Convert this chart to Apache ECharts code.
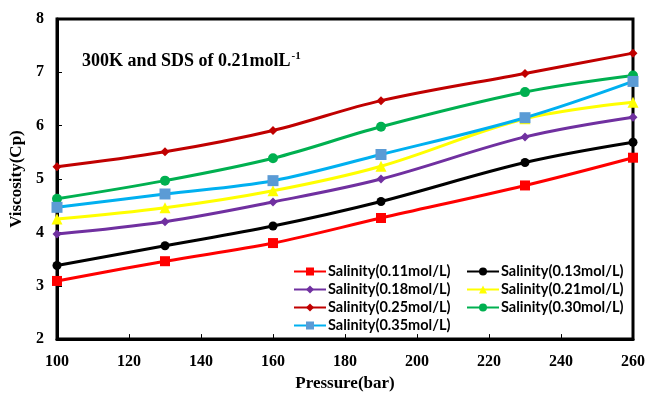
<!DOCTYPE html>
<html>
<head>
<meta charset="utf-8">
<script src="https://cdn.jsdelivr.net/npm/echarts@6/dist/echarts.min.js"></script>
<style>html,body{margin:0;padding:0;background:#fff;}#c{width:649px;height:397px;}</style>
</head>
<body>
<div id="c"></div>
<script>
const pressures = [100, 130, 160, 190, 230, 260];
const xTicks = [100, 120, 140, 160, 180, 200, 220, 240, 260];
const yTicks = [2, 3, 4, 5, 6, 7, 8];
const names = ['Salinity(0.11mol/L)', 'Salinity(0.13mol/L)', 'Salinity(0.18mol/L)', 'Salinity(0.21mol/L)', 'Salinity(0.25mol/L)', 'Salinity(0.30mol/L)', 'Salinity(0.35mol/L)'];
const s011 = [3.09, 3.46, 3.80, 4.27, 4.88, 5.40];
const s013 = [3.38, 3.75, 4.12, 4.58, 5.31, 5.69];
const s018 = [3.97, 4.20, 4.57, 5.00, 5.79, 6.16];
const s021 = [4.25, 4.46, 4.78, 5.24, 6.13, 6.44];
const s025 = [5.23, 5.51, 5.91, 6.47, 6.98, 7.36];
const s030 = [4.63, 4.97, 5.39, 5.98, 6.63, 6.94];
const s035 = [4.47, 4.72, 4.97, 5.46, 6.15, 6.83];

const values = [s011, s013, s018, s021, s025, s030, s035];
const styles = [
  {symbol: 'rect', size: 10, line: '#FF0000', mark: '#FF0000'},
  {symbol: 'circle', size: 9, line: '#000000', mark: '#000000'},
  {symbol: 'diamond', size: 9, line: '#7030A0', mark: '#7030A0'},
  {symbol: 'triangle', size: 11, line: '#FFFF00', mark: '#FFFF00'},
  {symbol: 'diamond', size: 9, line: '#C00000', mark: '#C00000'},
  {symbol: 'circle', size: 10, line: '#00B050', mark: '#00B050'},
  {symbol: 'rect', size: 11, line: '#00B0F0', mark: '#5B9BD5'}
];

const serif = '"Liberation Serif", "Times New Roman", serif';
const chart = echarts.init(document.getElementById('c'), null, {renderer: 'canvas'});

const series = names.map((n, i) => ({
  name: n,
  type: 'line',
  smooth: 0.35,
  data: pressures.map((p, j) => [p, values[i][j]]),
  symbol: styles[i].symbol,
  symbolSize: styles[i].size,
  lineStyle: {color: styles[i].line, width: 3},
  itemStyle: {color: styles[i].mark},
  z: 2 + i
}));

const legendText = {fontFamily: 'Lato, "Open Sans", sans-serif', fontSize: 14.5, fontWeight: 'bold', color: '#000', padding: [0, 0, 0, -3]};
const legendBase = {orient: 'vertical', top: 264, padding: 0, itemWidth: 32, itemHeight: 10, itemGap: 3, textStyle: legendText};

chart.setOption({
  animation: false,
  backgroundColor: '#fff',
  title: {
    left: 82, top: 51, padding: 0,
    text: '{a|300K and SDS of 0.21molL}{b|-1}',
    textStyle: {
      rich: {
        a: {fontFamily: serif, fontWeight: 'bold', fontSize: 18, color: '#000'},
        b: {fontFamily: serif, fontWeight: 'bold', fontSize: 11, color: '#000', verticalAlign: 'top', padding: [0, 0, 10, 1]}
      }
    }
  },
  grid: {left: 57, right: 16, top: 19, bottom: 54, show: true, borderColor: '#000', borderWidth: 3, containLabel: false},
  legend: [
    Object.assign({left: 293, data: [names[0], names[2], names[4], names[6]]}, legendBase),
    Object.assign({left: 466, data: [names[1], names[3], names[5]]}, legendBase)
  ],
  xAxis: {
    type: 'value', min: xTicks[0], max: xTicks[xTicks.length - 1], interval: 20,
    name: 'Pressure(bar)', nameLocation: 'middle', nameGap: 35,
    nameTextStyle: {fontFamily: serif, fontWeight: 'bold', fontSize: 17, color: '#000'},
    axisLine: {lineStyle: {color: '#000', width: 3}},
    axisTick: {inside: true, length: 5, lineStyle: {color: '#000', width: 1}},
    axisLabel: {fontFamily: serif, fontWeight: 'bold', fontSize: 16, color: '#000', margin: 15},
    splitLine: {show: false}
  },
  yAxis: {
    type: 'value', min: yTicks[0], max: yTicks[yTicks.length - 1], interval: 1,
    name: 'Viscosity(Cp)', nameLocation: 'middle', nameGap: 31,
    nameTextStyle: {fontFamily: serif, fontWeight: 'bold', fontSize: 17, color: '#000'},
    axisLine: {lineStyle: {color: '#000', width: 3}},
    axisTick: {inside: true, length: 5, lineStyle: {color: '#000', width: 1}},
    axisLabel: {fontFamily: serif, fontWeight: 'bold', fontSize: 16, color: '#000', margin: 13},
    splitLine: {show: false}
  },
  series: series
});
</script>
</body>
</html>
